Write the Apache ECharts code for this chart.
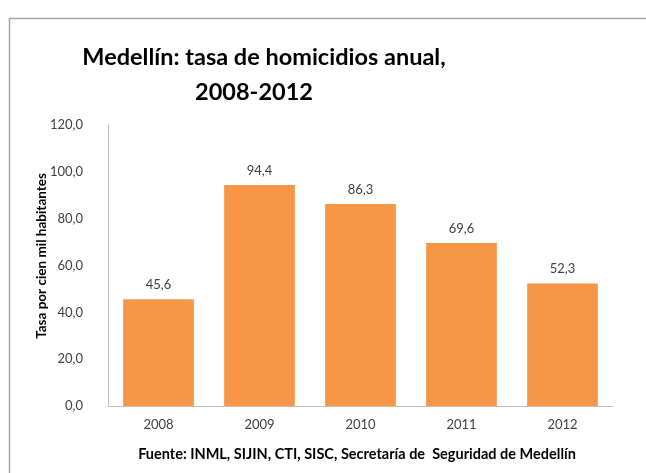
<!DOCTYPE html>
<html>
<head>
<meta charset="utf-8">
<script src="https://cdn.jsdelivr.net/npm/echarts@6/dist/echarts.min.js"></script>
<style>
  html, body { margin: 0; padding: 0; background: #fff; }
  #chart { width: 646px; height: 473px; }
</style>
</head>
<body>
<div id="chart"></div>
<script>
// Annual homicide rate per 100,000 inhabitants, Medellín
const years = ['2008', '2009', '2010', '2011', '2012'];
const rates = [45.6, 94.4, 86.3, 69.6, 52.3];
const yTicks = [0, 20, 40, 60, 80, 100, 120];

const fmt = v => v.toFixed(1).replace('.', ',');
const FONT = 'Lato, "Open Sans", sans-serif';
const titleStyle = { fontFamily: FONT, fontSize: 23.5, fontWeight: 'bold', color: '#000' };

const chart = echarts.init(document.getElementById('chart'));
chart.setOption({
  backgroundColor: '#ffffff',
  animation: false,
  title: [
    { text: 'Medellín: tasa de homicidios anual,', left: 259, top: 40, textAlign: 'center', textStyle: titleStyle },
    { text: '2008-2012', left: 249, top: 75, textAlign: 'center', textStyle: titleStyle }
  ],
  graphic: [
    {
      type: 'rect',
      shape: { x: 9.5, y: 18.5, width: 660, height: 480 },
      style: { fill: 'none', stroke: '#a6a6a6', lineWidth: 1.5 },
      silent: true
    },
    {
      // vertical axis title
      type: 'text',
      x: 42,
      y: 256,
      rotation: Math.PI / 2,
      style: {
        text: 'Tasa por cien mil habitantes',
        fontFamily: FONT,
        fontSize: 13.5,
        fontWeight: 'bold',
        fill: '#000',
        align: 'center',
        verticalAlign: 'middle'
      }
    },
    {
      type: 'text',
      x: 357,
      y: 447,
      style: {
        text: 'Fuente: INML, SIJIN, CTI, SISC, Secretaría de  Seguridad de Medellín',
        fontFamily: FONT,
        fontSize: 14.5,
        fontWeight: 'bold',
        fill: '#000',
        align: 'center'
      }
    }
  ],
  grid: { left: 108, right: 33, top: 125, bottom: 67 },
  xAxis: {
    type: 'category',
    data: years,
    axisLine: { lineStyle: { color: '#bfbfbf', width: 1 } },
    axisTick: { show: false },
    axisLabel: { color: '#404040', fontFamily: FONT, fontSize: 13, margin: 12 }
  },
  yAxis: {
    type: 'value',
    min: yTicks[0],
    max: yTicks[yTicks.length - 1],
    interval: yTicks[1] - yTicks[0],
    axisLine: { show: true, lineStyle: { color: '#bfbfbf', width: 1 } },
    axisTick: { show: false },
    splitLine: { show: false },
    axisLabel: { color: '#404040', fontFamily: FONT, fontSize: 13, margin: 25, formatter: fmt }
  },
  series: [{
    type: 'bar',
    data: rates,
    barWidth: '70%',
    itemStyle: { color: '#f79646' },
    label: {
      show: true,
      position: 'top',
      distance: 8,
      color: '#404040',
      fontFamily: FONT,
      fontSize: 13,
      formatter: p => fmt(p.value)
    }
  }]
});
</script>
</body>
</html>
